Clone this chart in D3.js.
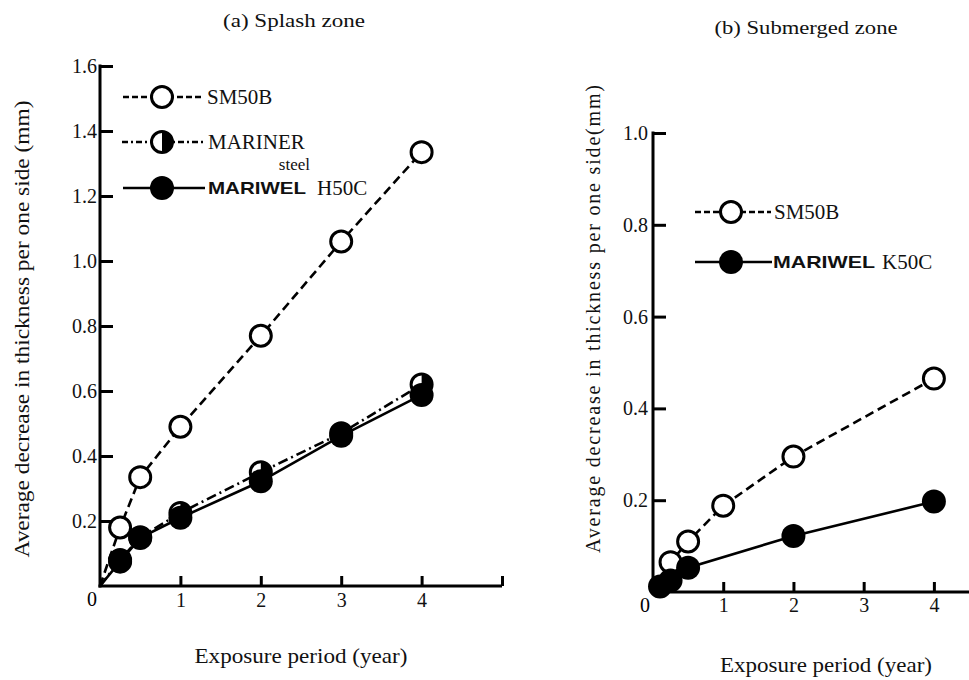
<!DOCTYPE html>
<html>
<head>
<meta charset="utf-8">
<script src="https://cdn.jsdelivr.net/npm/d3@7"></script>
<style>
  body { margin: 0; background: #fff; }
  svg { display: block; }
</style>
</head>
<body>
<div id="chart"></div>
<script>
// Data (exposure years, thickness loss in mm)
// leading 0 = origin, lines start there, no marker
const splashYears = [0, 0.25, 0.5, 1, 2, 3, 4]
const splashSM50B = [0, 0.18, 0.335, 0.49, 0.77, 1.06, 1.335]
const splashMariner = [0, 0.08, 0.15, 0.225, 0.35, 0.47, 0.62]
const splashMariwel = [0, 0.075, 0.148, 0.21, 0.322, 0.462, 0.588]

const submergedYearsSM = [0, 0.25, 0.5, 1, 2, 4]
const submergedSM50B = [0, 0.065, 0.11, 0.188, 0.295, 0.465]
const submergedYearsK = [0, 0.1, 0.25, 0.5, 2, 4]
const submergedMariwel = [0, 0.012, 0.025, 0.053, 0.122, 0.197]

const splashYTicks = [0.2, 0.4, 0.6, 0.8, 1.0, 1.2, 1.4, 1.6]
const splashXTicks = [1, 2, 3, 4, 5]
const submergedYTicks = [0.2, 0.4, 0.6, 0.8, 1.0]
const submergedXTicks = [1, 2, 3, 4]

const SERIF = '"Liberation Serif", "DejaVu Serif", serif'
const SANS = '"Liberation Sans", Arial, sans-serif'

const width = 969
const height = 680

const svg = d3.select("#chart").append("svg").attr("width", width).attr("height", height)

const zip = (xs, ys) => xs.map((x, i) => ({ x, y: ys[i] }))

// dash styles
const DASHED = "9,5"
const DASHDOT = "10,4,2,4"

// draws one panel: axes, lines, markers
function panel(opt) {
  const x = d3.scaleLinear().domain(opt.xDomain).range(opt.xRange)
  const y = d3.scaleLinear().domain(opt.yDomain).range(opt.yRange)
  const g = svg.append("g")

  // y axis, ticks pointing inwards
  const ya = g
    .append("g")
    .attr("transform", `translate(${opt.xRange[0]},0)`)
    .attr("font-family", null)
    .call(
      d3
        .axisLeft(y)
        .tickValues(opt.yTicks)
        .tickSize(-13)
        .tickPadding(opt.yPad)
        .tickFormat(d3.format(".1f")),
    )
  ya.select(".domain").remove()
  ya.append("line")
    .attr("x1", 0).attr("x2", 0)
    .attr("y1", y(opt.yDomain[0]) + 1.5).attr("y2", y(opt.yDomain[1]) - 1.5)
    .attr("stroke", "#000").attr("stroke-width", 3)
  ya.selectAll(".tick line").attr("stroke", "#000").attr("stroke-width", 3)
  ya.selectAll(".tick text")
    .style("font-family", SERIF).style("font-size", "20px").attr("fill", "#111")

  // x axis, ticks pointing upwards
  const xa = g
    .append("g")
    .attr("transform", `translate(0,${opt.yRange[0]})`)
    .call(
      d3
        .axisBottom(x)
        .tickValues(opt.xTicks)
        .tickSize(-10)
        .tickPadding(opt.xPad)
        .tickFormat((d) => (d <= 4 ? d : "")),
    )
  xa.select(".domain").remove()
  xa.append("line")
    .attr("x1", x(opt.xDomain[0]) - 1.5).attr("x2", opt.xRange[1])
    .attr("y1", 0).attr("y2", 0)
    .attr("stroke", "#000").attr("stroke-width", 3)
  xa.selectAll(".tick line").attr("stroke", "#000").attr("stroke-width", 3)
  xa.selectAll(".tick text")
    .style("font-family", SERIF).style("font-size", "20px").attr("fill", "#111")

  // origin label
  g.append("text")
    .style("font-family", SERIF).style("font-size", "20px")
    .attr("x", opt.xRange[0] - 8)
    .attr("y", opt.yRange[0] + opt.zeroDy)
    .attr("text-anchor", "middle")
    .text("0")

  const line = d3.line().x((d) => x(d.x)).y((d) => y(d.y))

  opt.series.forEach((s) => {
    g.append("path")
      .datum(s.points)
      .attr("d", line)
      .attr("fill", "none")
      .attr("stroke", "#000")
      .attr("stroke-width", 2.6)
      .attr("stroke-dasharray", s.dash)

    s.points
      .filter((p) => p.x > 0)
      .forEach((p) => marker(g, x(p.x), y(p.y), s.marker, s.r))
  })

  return { x, y }
}

function marker(g, cx, cy, kind, r) {
  if (kind === "open") {
    g.append("circle").attr("cx", cx).attr("cy", cy).attr("r", r)
      .attr("fill", "#fff").attr("stroke", "#000").attr("stroke-width", 3)
  } else if (kind === "filled") {
    g.append("circle").attr("cx", cx).attr("cy", cy).attr("r", r + 1.5).attr("fill", "#000")
  } else {
    // half filled: right half black
    g.append("circle").attr("cx", cx).attr("cy", cy).attr("r", r)
      .attr("fill", "#fff").attr("stroke", "#000").attr("stroke-width", 3)
    const arc = d3.arc()({ innerRadius: 0, outerRadius: r, startAngle: 0, endAngle: Math.PI })
    g.append("path").attr("d", arc).attr("transform", `translate(${cx},${cy})`).attr("fill", "#000")
  }
}

// (a) Splash zone
panel({
  xDomain: [0, 5],
  xRange: [100, 502],
  yDomain: [0, 1.6],
  yRange: [586, 66],
  yTicks: splashYTicks,
  xTicks: splashXTicks,
  yPad: 3,
  xPad: 7,
  zeroDy: 20,
  series: [
    { points: zip(splashYears, splashSM50B), dash: DASHED, marker: "open", r: 10.5 },
    { points: zip(splashYears, splashMariner), dash: DASHDOT, marker: "half", r: 10.5 },
    { points: zip(splashYears, splashMariwel), dash: null, marker: "filled", r: 10.5 },
  ],
})

// (b) Submerged zone
panel({
  xDomain: [0, 4.5],
  xRange: [653, 969],
  yDomain: [0, 1.0],
  yRange: [592, 133],
  yTicks: submergedYTicks,
  xTicks: submergedXTicks,
  yPad: 5,
  xPad: 6,
  zeroDy: 20,
  series: [
    { points: zip(submergedYearsSM, submergedSM50B), dash: DASHED, marker: "open", r: 10.5 },
    { points: zip(submergedYearsK, submergedMariwel), dash: null, marker: "filled", r: 10.5 },
  ],
})

// legends
function legendRow(x1, x2, cx, cy, dash, kind) {
  svg.append("line")
    .attr("x1", x1).attr("x2", x2).attr("y1", cy).attr("y2", cy)
    .attr("stroke", "#000").attr("stroke-width", 2.6)
    .attr("stroke-dasharray", dash)
  marker(svg, cx, cy, kind, 10.5)
}

function txt(font, x, y, size, s, anchor) {
  const t = svg.append("text")
    .style("font-family", font === "sans" ? SANS : SERIF)
    .style("font-size", size + "px")
    .attr("fill", "#111")
    .attr("x", x).attr("y", y)
    .attr("text-anchor", anchor || "start")
    .text(s)
  if (font === "sans") t.style("font-weight", "bold")
  return t
}

legendRow(123, 202, 162, 97, "6,3", "open")
txt("serif", 207, 104, 21, "SM50B")
legendRow(122, 205, 162, 142, "6,3,2,3", "half")
txt("serif", 208, 149, 21, "MARINER")
txt("serif", 310, 170, 17, "steel", "end")
legendRow(123, 205, 162, 188, null, "filled")
txt("sans", 208, 194, 17, "MARIWEL").attr("textLength", 98).attr("lengthAdjust", "spacingAndGlyphs")
txt("serif", 317, 195, 21, "H50C")

legendRow(695, 771, 731, 212, "6,3", "open")
txt("serif", 774, 219, 21, "SM50B")
legendRow(695, 772, 731, 262, null, "filled")
txt("sans", 773, 268, 17, "MARIWEL").attr("textLength", 102).attr("lengthAdjust", "spacingAndGlyphs")
txt("serif", 882, 269, 21, "K50C")

// titles and axis labels
txt("serif", 294, 27, 19, "(a) Splash zone", "middle")
  .attr("textLength", 142).attr("lengthAdjust", "spacingAndGlyphs")
txt("serif", 806, 34, 19, "(b) Submerged zone", "middle")
  .attr("textLength", 183).attr("lengthAdjust", "spacingAndGlyphs")
txt("serif", 301, 663, 21, "Exposure period (year)", "middle")
  .attr("textLength", 213).attr("lengthAdjust", "spacingAndGlyphs")
txt("serif", 826, 672, 21, "Exposure period (year)", "middle")
  .attr("textLength", 212).attr("lengthAdjust", "spacingAndGlyphs")

txt("serif", 0, 0, 20, "Average decrease in thickness per one side (mm)", "middle")
  .attr("transform", "translate(29,329) rotate(-90)")
  .attr("textLength", 457).attr("lengthAdjust", "spacingAndGlyphs")

txt("serif", 0, 0, 20, "Average decrease in thickness per one side(mm)", "middle")
  .attr("transform", "translate(600,319) rotate(-90)")
  .attr("textLength", 468)
</script>
</body>
</html>
